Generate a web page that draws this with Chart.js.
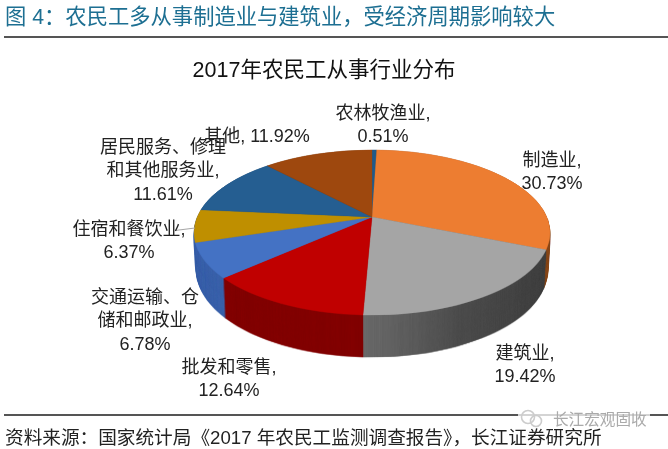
<!DOCTYPE html>
<html lang="zh">
<head>
<meta charset="utf-8">
<title>2017年农民工从事行业分布</title>
<script src="https://cdn.jsdelivr.net/npm/chart.js@4"></script>
<style>
    html, body { margin: 0; padding: 0; background: #fff; }
    body { position: relative; width: 668px; height: 449px; overflow: hidden;
           font-family: "Liberation Sans", "Noto Sans CJK SC", sans-serif; }
    canvas { position: absolute; left: 0; top: 0; }
    .text { position: absolute; white-space: nowrap; }
    .heading { left: 5px; top: 4px; font-size: 21.3px; line-height: 26px; color: #1d6f92; }
    .rule { position: absolute; left: 4px; right: 0; background: #555; }
    .chart-title { left: 124px; width: 400px; top: 56px; text-align: center; font-size: 21.5px; line-height: 28px; color: #111; }
    .source { left: 5px; top: 427px; font-size: 18.65px; line-height: 22px; color: #222; }
    .veil { position: absolute; left: 518px; width: 132px; top: 408px; height: 20px; background: rgba(255, 255, 255, 0.75); }
    .mark { left: 553px; top: 410px; font-size: 15.6px; line-height: 20px; color: #aaa; }
    svg { position: absolute; left: 519px; top: 408px; }
</style>
</head>
<body>
<canvas id="industryChart" width="668" height="449"></canvas>
<div class="text heading">图 4：农民工多从事制造业与建筑业，受经济周期影响较大</div>
<div class="rule" style="top:36px;height:2px"></div>
<div class="text chart-title">2017年农民工从事行业分布</div>
<div class="rule" style="top:414px;height:1.5px"></div>
<div class="veil"></div>
<svg width="26" height="22" fill="none" stroke="#ccc" stroke-width="1.6">
    <circle cx="9" cy="9" r="6.5"/><circle cx="17" cy="13" r="5.5"/>
</svg>
<div class="text mark">长江宏观固收</div>
<div class="text source">资料来源：国家统计局《2017 年农民工监测调查报告》，长江证券研究所</div>

<script>
// Data, clockwise from twelve o'clock
const categories = ['农林牧渔业', '制造业', '建筑业', '批发和零售', '交通运输、仓储和邮政业', '住宿和餐饮业', '居民服务、修理和其他服务业', '其他'];
const shares = [0.51, 30.73, 19.42, 12.64, 6.78, 6.37, 11.61, 11.92];
const topColors = ['#1f5a8a', '#ed7d31', '#a5a5a5', '#c00000', '#4472c4', '#bf8f00', '#255e91', '#9e480e'];
const wallColors = ['#173f60', '#8a4a1c', '#444444', '#840000', '#3c63ab', '#3c63ab', '#1b4468', '#6e3209'];

// Label lines and where each block of lines is centred
const labelLines = [
    ['农林牧渔业,', '0.51%'],
    ['制造业,', '30.73%'],
    ['建筑业,', '19.42%'],
    ['批发和零售,', '12.64%'],
    ['交通运输、仓', '储和邮政业,', '6.78%'],
    ['住宿和餐饮业,', '6.37%'],
    ['居民服务、修理', '和其他服务业,', '11.61%'],
    ['其他, 11.92%']
];
const labelSpots = [[383, 114], [552, 161], [525, 354], [229, 368], [145, 298], [129, 230], [163, 148], [257, 137]];

// Perspective of the tilted disc (pixels on the page)
const discX = 372;
const discY = 217;
const discA = 79.6;
const discB = -0.188;
const discC = 174.8;
const discTop = 149;
const discBottom = 316;
const wallDepth = 37;

document.addEventListener('DOMContentLoaded', function() {
    initializeIndustryChart();
});

// Draw all slices through the perspective, one pixel row at a time
function projectPie(chart, arcs, fills) {
    const layer = document.createElement('canvas');
    layer.width = chart.canvas.width;
    layer.height = chart.canvas.height;
    const ctx = layer.getContext('2d');
    const R = arcs[0].outerRadius;
    const cx = arcs[0].x;
    const cy = arcs[0].y;
    const toV = d => d / (discA - discB * d);

    // the gray wall is lighter towards the front
    const paints = fills.slice();
    if (fills === wallColors) {
        const gradient = ctx.createLinearGradient(cx - 0.05 * R, 0, cx + R, 0);
        gradient.addColorStop(0, '#6c6c6c');
        gradient.addColorStop(0.45, '#4c4c4c');
        gradient.addColorStop(1, '#3e3e3e');
        paints[2] = gradient;
    }

    for (let row = discTop; row < discBottom; row++) {
        const v0 = toV(row - discY);
        const v1 = toV(row + 1 - discY);
        const sx = discC / (1 + discB * (v0 + v1) / 2) / R;
        const sy = 1 / ((v1 - v0) * R);
        ctx.save();
        ctx.beginPath();
        ctx.rect(0, row, layer.width, 1);
        ctx.clip();
        ctx.setTransform(sx, 0, 0, sy, discX - sx * cx, row - sy * (cy + v0 * R));
        arcs.forEach((arc, i) => {
            const painted = Object.create(arc);
            painted.options = Object.assign({}, arc.options, { backgroundColor: paints[i], borderColor: paints[i] });
            painted.draw(ctx);
        });
        ctx.restore();
    }
    return layer;
}

const tiltedPie = {
    id: 'tiltedPie',
    beforeDatasetsDraw(chart) {
        const ctx = chart.ctx;
        const arcs = chart.getDatasetMeta(0).data;
        const wall = projectPie(chart, arcs, wallColors);
        const top = projectPie(chart, arcs, topColors);
        const w = wall.width;
        const h = wall.height;
        const midY = 232;

        // stack the dark copy downwards to make the side of the disc
        for (let n = 84; n > 0; n--) {
            const k = n / 84;
            const sx = 1 - 0.012 * k;
            const sy = 1 + 0.06 * k;
            ctx.drawImage(wall, discX - discX * sx, midY - midY * sy + wallDepth * k, w * sx, h * sy);
        }
        ctx.drawImage(top, 0, 0);
        return false;
    },
    // afterDatasetsDraw is skipped once the datasets are cancelled above
    afterDraw(chart) {
        const ctx = chart.ctx;
        ctx.save();

        // leader line of the small slice on the left
        ctx.strokeStyle = '#a6a6a6';
        ctx.lineWidth = 1.2;
        ctx.beginPath();
        ctx.moveTo(175, 230.5);
        ctx.lineTo(195, 228);
        ctx.stroke();

        ctx.fillStyle = '#222';
        ctx.font = '18px "Liberation Sans", "Noto Sans CJK SC", sans-serif';
        ctx.textAlign = 'center';
        ctx.textBaseline = 'middle';
        labelLines.forEach((lines, i) => {
            lines.forEach((line, j) => {
                ctx.fillText(line, labelSpots[i][0], labelSpots[i][1] + j * 23.5);
            });
        });
        ctx.restore();
    }
};

// Initialize Industry Chart
function initializeIndustryChart() {
    const ctx = document.getElementById('industryChart').getContext('2d');

    new Chart(ctx, {
        type: 'pie',
        data: {
            labels: categories,
            datasets: [
                {
                    data: shares,
                    backgroundColor: topColors,
                    borderColor: topColors,
                    borderWidth: 0.6
                }
            ]
        },
        options: {
            responsive: false,
            animation: false,
            devicePixelRatio: 1,
            plugins: {
                legend: { display: false },
                tooltip: { enabled: false }
            }
        },
        plugins: [tiltedPie]
    });
}
</script>
</body>
</html>
